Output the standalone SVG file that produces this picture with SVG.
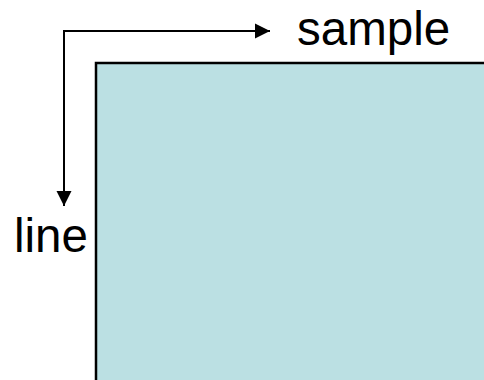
<svg xmlns="http://www.w3.org/2000/svg" width="484" height="380" viewBox="0 0 484 380">
<style>
.lbl{font-family:"Liberation Sans",Arial,sans-serif;font-size:47.5px;fill:#000}
.conn{stroke:#000;stroke-width:2;fill:none}
</style>
<defs>
<marker id="ah" markerUnits="userSpaceOnUse" markerWidth="16" markerHeight="16" viewBox="0 0 16 16" refX="15" refY="8" orient="auto-start-reverse">
<path d="M0,0.5 L15,8 L0,15.5 Z" fill="#000"/>
</marker>
</defs>
<rect width="484" height="380" fill="#fff"/>
<g id="area">
<rect x="96" y="63" width="400" height="330" fill="#BBE0E3" stroke="#000" stroke-width="2.5"/>
</g>
<g id="connectors">
<path class="conn" d="M64,206 V31 H270" marker-start="url(#ah)" marker-end="url(#ah)"/>
</g>
<g id="label-sample"><text class="lbl" x="297" y="45">sample</text></g>
<g id="label-line"><text class="lbl" x="14" y="252">line</text></g>
</svg>
